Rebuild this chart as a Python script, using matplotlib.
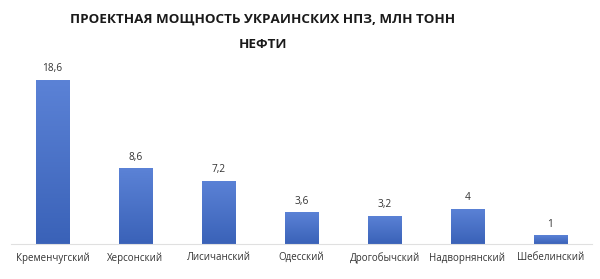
import numpy as np
import matplotlib
matplotlib.use('Agg')
import matplotlib.pyplot as plt
from matplotlib.colors import LinearSegmentedColormap

plt.rcParams['font.family'] = ['Open Sans', 'DejaVu Sans']

# Данные
refineries = ['Кременчугский', 'Херсонский', 'Лисичанский', 'Одесский',
              'Дрогобычский', 'Надворнянский', 'Шебелинский']
capacity = [18.6, 8.6, 7.2, 3.6, 3.2, 4, 1]
value_labels = ['18,6', '8,6', '7,2', '3,6', '3,2', '4', '1']

fig = plt.figure(figsize=(6, 2.79), dpi=100)
ax = fig.add_axes([11 / 600, 1 - 244 / 279, 581 / 600, 184 / 279])

x = np.arange(len(refineries))
bars = ax.bar(x, capacity, width=0.4, color='none')

# градиент в столбцах
cmap = LinearSegmentedColormap.from_list('g', ['#3a62b8', '#5b82d6'])
grad = np.linspace(0, 1, 100).reshape(-1, 1)
for b in bars:
    x0, y0 = b.get_x(), b.get_y()
    w, h = b.get_width(), b.get_height()
    im = ax.imshow(grad, cmap=cmap, aspect='auto', origin='lower',
                   extent=[x0, x0 + w, y0, y0 + h], zorder=2)
    im.set_clip_path(b)

for xi, v, lab in zip(x, capacity, value_labels):
    ax.annotate(lab, (xi, v), xytext=(0, 4), textcoords='offset points',
                ha='center', va='bottom', fontsize=7.3, color='#333333')

ax.set_xlim(-0.5, len(refineries) - 0.5)
ax.set_ylim(0, 20.87)
ax.set_xticks(x)
ax.set_xticklabels(refineries, fontsize=7, color='#333333')
ax.tick_params(axis='x', length=0, pad=6)
ax.set_yticks([])
for s in ['top', 'right', 'left']:
    ax.spines[s].set_visible(False)
ax.spines['bottom'].set_color('#e0e0e0')
ax.spines['bottom'].set_linewidth(0.8)

fig.text(263 / 600, 1 - 19 / 279, 'ПРОЕКТНАЯ МОЩНОСТЬ УКРАИНСКИХ НПЗ, МЛН ТОНН',
         ha='center', va='center', fontsize=9.7, fontweight='bold', color='#1a1a1a')
fig.text(263 / 600, 1 - 45 / 279, 'НЕФТИ',
         ha='center', va='center', fontsize=9.7, fontweight='bold', color='#1a1a1a')

fig.savefig('out.png', dpi=100, facecolor='white')
